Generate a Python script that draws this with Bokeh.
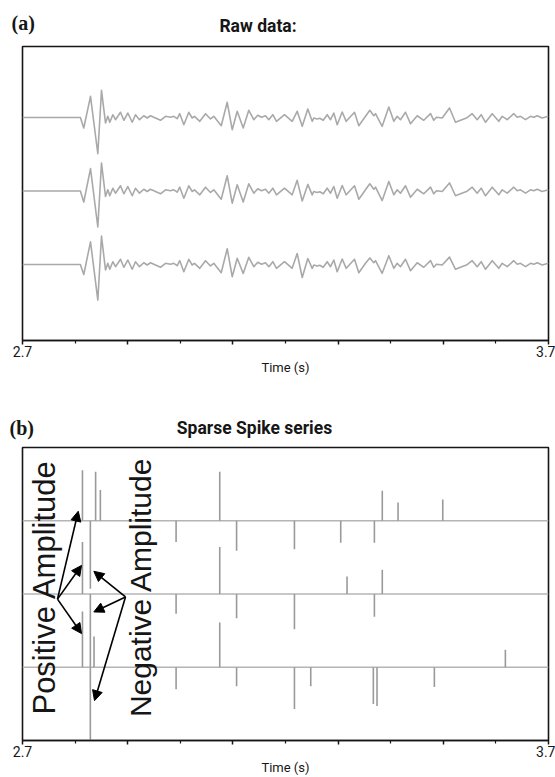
import math
from bokeh.plotting import figure
from bokeh.models import Range1d, FixedTicker, Label, Arrow, NormalHead, CustomJSTickFormatter
from bokeh.layouts import column
from bokeh.embed import file_html
from bokeh.resources import INLINE

# ---------------- data ----------------
raw_time = [2.700, 2.810, 2.8165, 2.8293, 2.8432, 2.8502, 2.8578, 2.8622, 2.8660, 2.8717,
            2.8768, 2.8863, 2.8926, 2.9002, 2.9086, 2.9148, 2.9224, 2.9306, 2.9371, 2.9433,
            2.9624, 2.9719, 2.9814, 2.9876, 2.9941, 2.9990, 3.0067, 3.0162, 3.0226, 3.0270,
            3.0371, 3.0479, 3.0574, 3.0637, 3.0778, 3.0892, 3.0987, 3.1082, 3.1196, 3.1302,
            3.1397, 3.1473, 3.1544, 3.1620, 3.1683, 3.1759, 3.1829, 3.1981, 3.2127, 3.2222,
            3.2318, 3.2424, 3.2508, 3.2538, 3.2603, 3.2652, 3.2717, 3.2793, 3.2856, 3.2918,
            3.2983, 3.3078, 3.3154, 3.3312, 3.3394, 3.3521, 3.3603, 3.3679, 3.3711, 3.3838,
            3.3964, 3.4059, 3.4124, 3.4186, 3.4281, 3.4376, 3.4504, 3.4629, 3.4757, 3.4819,
            3.4871, 3.4979, 3.5118, 3.5232, 3.5327, 3.5441, 3.5549, 3.5644, 3.5720, 3.5802,
            3.5930, 3.6055, 3.6120, 3.6215, 3.6340, 3.6405, 3.6468, 3.6563, 3.6658, 3.6721,
            3.6785, 3.6880, 3.7000]

raw_trace_1 = [0, 0, -0.143, 0.288, -0.493, 0.370, -0.075, 0.016, -0.065, 0.038,
               -0.030, 0.071, -0.038, 0.061, -0.065, 0.038, -0.030, 0.024, -0.007, 0.024,
               -0.038, 0.016, 0.003, 0.016, -0.016, 0.052, -0.098, 0.071, -0.007, 0.016,
               -0.052, 0.052, -0.020, 0.016, -0.112, 0.207, -0.166, 0.084, -0.143, 0.098,
               -0.030, 0.030, 0.003, 0.024, -0.030, 0.038, -0.052, 0.038, -0.052, 0.084,
               -0.120, 0.116, -0.052, -0.007, -0.020, -0.011, -0.038, 0.038, -0.030, 0.061,
               -0.098, 0.075, -0.052, 0.071, -0.112, 0.016, 0.098, 0.024, 0.052, -0.120,
               0.143, -0.052, 0.016, -0.030, 0.071, -0.084, 0.024, -0.038, 0.052, -0.038,
               0.003, -0.007, 0.129, -0.065, -0.038, -0.007, 0.052, -0.030, 0.038, -0.065,
               0.052, -0.052, 0.016, -0.030, 0.052, 0.003, 0.016, -0.030, 0.016, 0.003,
               0.024, -0.007, 0.016]

raw_trace_2 = [0, 0, -0.150, 0.305, -0.490, 0.380, -0.075, 0.016, -0.065, 0.038,
               -0.030, 0.071, -0.038, 0.061, -0.065, 0.038, -0.030, 0.024, -0.007, 0.024,
               -0.038, 0.016, 0.003, 0.016, -0.016, 0.052, -0.098, 0.071, -0.007, 0.016,
               -0.052, 0.052, -0.020, 0.016, -0.112, 0.207, -0.166, 0.084, -0.150, 0.098,
               -0.030, 0.030, 0.003, 0.024, -0.030, 0.038, -0.052, 0.038, -0.052, 0.145,
               -0.136, 0.090, -0.052, -0.007, -0.020, -0.011, -0.038, 0.038, -0.030, 0.061,
               -0.098, 0.075, -0.052, 0.071, -0.112, 0.016, 0.098, 0.024, 0.052, -0.130,
               0.130, -0.052, 0.016, -0.030, 0.071, -0.084, 0.024, -0.038, 0.052, -0.038,
               0.003, -0.007, 0.110, -0.065, -0.038, -0.007, 0.052, -0.030, 0.038, -0.065,
               0.052, -0.052, 0.016, -0.030, 0.052, 0.003, 0.016, -0.030, 0.016, 0.003,
               0.024, -0.007, 0.016]

raw_trace_3 = [0, 0, -0.136, 0.309, -0.484, 0.386, -0.075, 0.016, -0.065, 0.038,
               -0.030, 0.071, -0.038, 0.061, -0.065, 0.038, -0.030, 0.024, -0.007, 0.024,
               -0.038, 0.016, 0.003, 0.016, -0.016, 0.052, -0.098, 0.071, -0.007, 0.016,
               -0.052, 0.052, -0.020, 0.016, -0.112, 0.215, -0.166, 0.084, -0.122, 0.098,
               -0.030, 0.030, 0.003, 0.024, -0.030, 0.038, -0.052, 0.038, -0.052, 0.150,
               -0.177, 0.082, -0.052, -0.007, -0.020, -0.011, -0.038, 0.038, -0.030, 0.061,
               -0.098, 0.075, -0.052, 0.071, -0.112, 0.016, 0.090, 0.024, 0.052, -0.120,
               0.120, -0.052, 0.016, -0.030, 0.071, -0.084, 0.024, -0.038, 0.052, -0.038,
               0.003, -0.007, 0.100, -0.065, -0.038, -0.007, 0.052, -0.030, 0.038, -0.065,
               0.052, -0.052, 0.016, -0.030, 0.052, 0.003, 0.016, -0.030, 0.016, 0.003,
               0.024, -0.007, 0.016]

trace_offsets = [3, 2, 1]

spike_time_1 = [2.814, 2.829, 2.839, 2.848, 2.992, 3.075, 3.107, 3.217, 3.305, 3.369, 3.384, 3.414, 3.499]
spike_amp_1 = [0.69, -0.93, 0.67, 0.42, -0.29, 0.67, -0.41, -0.39, -0.30, -0.30, 0.41, 0.25, 0.29]

spike_time_2 = [2.814, 2.829, 2.992, 3.075, 3.107, 3.217, 3.317, 3.369, 3.384]
spike_amp_2 = [0.71, -1.00, -0.27, 0.64, -0.33, -0.48, 0.24, -0.31, 0.33]

spike_time_3 = [2.814, 2.829, 2.836, 2.992, 3.075, 3.107, 3.217, 3.248, 3.367, 3.374, 3.483, 3.618]
spike_amp_3 = [0.76, -1.02, 0.42, -0.30, 0.61, -0.26, -0.57, -0.26, -0.50, -0.53, -0.27, 0.24]

x_major_ticks = [2.7, 2.9, 3.1, 3.3, 3.5, 3.7]
x_minor_ticks = [2.8, 3.0, 3.2, 3.4, 3.6]
x_tick_labels = ["2.7", "3.7"]

TRACE_COLOR = "#a9a9a9"
SPIKE_COLOR = "#9a9a9a"
BASE_COLOR = "#b4b4b4"
INK = "#161616"


def make_header(height, panel_tag, title, title_x, title_y, tag_x, tag_y):
    h = figure(width=555, height=height, x_range=Range1d(0, 555), y_range=Range1d(height, 0),
               output_backend="svg", toolbar_location=None, x_axis_location=None, y_axis_location=None,
               min_border_left=0, min_border_right=0, min_border_top=0, min_border_bottom=0)
    h.frame_align = False
    h.grid.visible = False
    h.outline_line_color = None
    h.add_layout(Label(x=tag_x, y=tag_y, text=panel_tag, text_font="Liberation Serif", text_font_style="bold",
                       text_font_size="20px", text_align="left", text_baseline="middle", text_color=INK))
    h.add_layout(Label(x=title_x, y=title_y, text=title, text_font="Roboto", text_font_style="bold",
                       text_font_size="17.5px", text_align="center", text_baseline="middle", text_color=INK))
    return h


def make_fig(height, top, bottom, y0, y1):
    p = figure(width=555, height=height, x_range=Range1d(2.7, 3.7), y_range=Range1d(y0, y1),
               output_backend="svg", toolbar_location=None, y_axis_location=None,
               min_border_left=22, min_border_right=7, min_border_top=top, min_border_bottom=bottom)
    p.grid.visible = False
    p.outline_line_color = INK
    p.outline_line_width = 1.6
    p.border_fill_color = "white"
    ax = p.xaxis[0]
    ax.ticker = FixedTicker(ticks=x_major_ticks, minor_ticks=x_minor_ticks)
    ax.formatter = CustomJSTickFormatter(args=dict(labels=x_tick_labels), code="""
        const s = tick.toFixed(1);
        return labels.includes(s) ? s : "";
    """)
    ax.axis_line_color = INK
    ax.axis_line_width = 1.6
    ax.major_tick_in = 0
    ax.major_tick_out = 4
    ax.minor_tick_in = 0
    ax.minor_tick_out = 3
    ax.major_tick_line_color = INK
    ax.minor_tick_line_color = INK
    ax.major_tick_line_width = 1.5
    ax.minor_tick_line_width = 1.2
    ax.major_label_standoff = 1
    ax.major_label_text_font = "Roboto"
    ax.major_label_text_font_size = "14px"
    ax.major_label_text_color = INK
    ax.axis_label = "Time (s)"
    ax.axis_label_standoff = 0
    ax.axis_label_text_font = "Roboto"
    ax.axis_label_text_font_style = "normal"
    ax.axis_label_text_font_size = "13px"
    ax.axis_label_text_color = INK
    return p


# ---------------- (a) Raw data ----------------
h1 = make_header(44, "(a)", "Raw data:", 257.5, 25, 11, 22)
p1 = make_fig(346, 2, 50, -0.034, 3.966)
for tr, off in zip([raw_trace_1, raw_trace_2, raw_trace_3], trace_offsets):
    p1.line(raw_time, [off + a for a in tr], line_color=TRACE_COLOR, line_width=1.6, line_join="round")

# ---------------- (b) Sparse spike series ----------------
h2 = make_header(56, "(b)", "Sparse Spike series", 254, 37, 9, 37)
p2 = make_fig(331, 1, 36, 0.0, 4.0)
p2.segment(x0=[2.7] * 3, y0=trace_offsets, x1=[3.7] * 3, y1=trace_offsets,
           line_color=BASE_COLOR, line_width=1.6)
for ts, am, off in zip([spike_time_1, spike_time_2, spike_time_3],
                       [spike_amp_1, spike_amp_2, spike_amp_3], trace_offsets):
    p2.segment(x0=ts, y0=[off] * len(ts), x1=ts, y1=[off + a for a in am],
               line_color=SPIKE_COLOR, line_width=1.6)

p2.add_layout(Label(x=2.7418, y=2.095, text="Positive Amplitude", angle=math.pi / 2,
                    text_font="Liberation Sans", text_font_size="31px", text_align="center",
                    text_baseline="middle", text_color=INK))
p2.add_layout(Label(x=2.9234, y=2.095, text="Negative Amplitude", angle=math.pi / 2,
                    text_font="Liberation Sans", text_font_size="30px", text_align="center",
                    text_baseline="middle", text_color=INK))

pos_origin = (2.7665, 1.93)
pos_tips = [(2.806, 3.13), (2.8122, 2.39), (2.8122, 1.46)]
neg_origin = (2.8958, 1.96)
neg_tips = [(2.8356, 2.31), (2.8356, 1.755), (2.8369, 0.544)]
for origin, tips in [(pos_origin, pos_tips), (neg_origin, neg_tips)]:
    for tx, ty in tips:
        p2.add_layout(Arrow(x_start=origin[0], y_start=origin[1], x_end=tx, y_end=ty,
                            line_color="black", line_width=1.6,
                            end=NormalHead(size=10, fill_color="black", line_color="black", line_width=1)))

layout = column(h1, p1, h2, p2)
open("out.html", "w").write(file_html(layout, INLINE))
